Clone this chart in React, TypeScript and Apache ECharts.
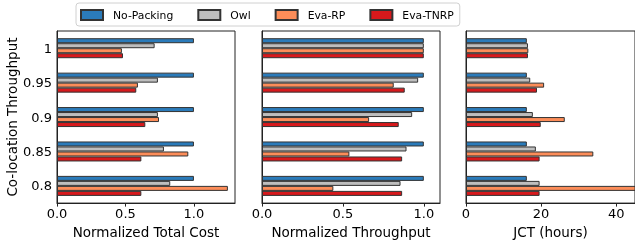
import React, { useEffect, useRef } from "react";
import * as echarts from "echarts";

const categories = ["1", "0.95", "0.9", "0.85", "0.8"];
const seriesNames = ["No-Packing", "Owl", "Eva-RP", "Eva-TNRP"];
const colors = ["#2b7bba", "#bebebe", "#fc8d59", "#d7191c"];

const costNoPacking = [1, 1, 1, 1, 1];
const costOwl = [0.713, 0.737, 0.737, 0.781, 0.827];
const costEvaRP = [0.474, 0.591, 0.745, 0.959, 1.248];
const costEvaTNRP = [0.482, 0.579, 0.645, 0.616, 0.616];

const thrNoPacking = [1, 1, 1, 1, 1];
const thrOwl = [1, 0.965, 0.928, 0.893, 0.856];
const thrEvaRP = [1, 0.814, 0.662, 0.54, 0.441];
const thrEvaTNRP = [1, 0.882, 0.845, 0.866, 0.866];

const jctNoPacking = [16.2, 16.2, 16.2, 16.2, 16.2];
const jctOwl = [16.5, 17.1, 17.8, 18.6, 19.6];
const jctEvaRP = [16.6, 20.8, 26.3, 33.9, 46];
const jctEvaTNRP = [16.5, 18.9, 19.9, 19.6, 19.6];

const costTicks = [0, 0.5, 1.0];
const thrTicks = [0, 0.5, 1.0];
const jctTicks = [0, 20, 40];

const panels = [
  { name: "Normalized Total Cost", data: [costNoPacking, costOwl, costEvaRP, costEvaTNRP], max: 1.3, interval: 0.5, ticks: costTicks, digits: 1, left: 57, width: 178 },
  { name: "Normalized Throughput", data: [thrNoPacking, thrOwl, thrEvaRP, thrEvaTNRP], max: 1.1, interval: 0.5, ticks: thrTicks, digits: 1, left: 262, width: 178 },
  { name: "JCT (hours)", data: [jctNoPacking, jctOwl, jctEvaRP, jctEvaTNRP], max: 45, interval: 20, ticks: jctTicks, digits: 0, left: 466, width: 173.3 },
];

const FONT = "DejaVu Sans";

export default function App() {
  const ref = useRef<HTMLDivElement>(null);
  useEffect(() => {
    if (!ref.current) return;
    const chart = echarts.init(ref.current, null, { renderer: "svg" });
    const grids = panels.map((p) => ({
      left: p.left,
      top: 31,
      width: p.width,
      height: 178,
      show: true,
      borderColor: "#222",
      borderWidth: 1,
      backgroundColor: "transparent",
    }));
    const xAxes = panels.map((p, i) => ({
      type: "value",
      gridIndex: i,
      min: 0,
      max: p.max,
      interval: p.interval,
      name: p.name,
      nameLocation: "middle",
      nameGap: 16,
      nameTextStyle: { fontFamily: FONT, fontSize: 13.5, color: "#000", verticalAlign: "top" },
      splitLine: { show: false },
      axisLine: { show: true, lineStyle: { color: "#222", width: 1 } },
      axisTick: { show: true, length: 3.5, inside: false, lineStyle: { color: "#222" }, customValues: p.ticks },
      axisLabel: {
        fontFamily: FONT,
        fontSize: 13,
        color: "#000",
        margin: 4,
        customValues: p.ticks,
        formatter: (v: number) => v.toFixed(p.digits),
      },
    }));
    const yAxes = panels.map((p, i) => ({
      type: "category",
      gridIndex: i,
      data: categories,
      inverse: true,
      name: i === 0 ? "Co-location Throughput" : "",
      nameLocation: "middle",
      nameRotate: 90,
      nameGap: 29,
      nameTextStyle: { fontFamily: FONT, fontSize: 13.5, color: "#000" },
      axisLine: { show: true, lineStyle: { color: "#222", width: 1 } },
      axisTick: { show: false },
      splitLine: { show: false },
      axisLabel: { show: i === 0, fontFamily: FONT, fontSize: 13, color: "#000", margin: 5 },
    }));
    const series: any[] = [];
    panels.forEach((p, i) => {
      p.data.forEach((d, s) => {
        series.push({
          type: "bar",
          name: seriesNames[s],
          xAxisIndex: i,
          yAxisIndex: i,
          data: d,
          barWidth: 5,
          barGap: "0%",
          itemStyle: { color: colors[s], borderColor: "#333", borderWidth: 1 },
        });
      });
    });
    chart.setOption({
      animation: false,
      legend: {
        left: 76,
        top: 3,
        data: seriesNames,
        selectedMode: false,
        icon: "rect",
        itemWidth: 22,
        itemHeight: 10,
        itemGap: 24,
        padding: [6, 6, 5, 4],
        borderColor: "#d0d0d0",
        borderWidth: 1,
        borderRadius: 3,
        backgroundColor: "#fff",
        textStyle: { fontFamily: FONT, fontSize: 10.8, color: "#000", padding: [0, 0, 0, 5] },
      },
      grid: grids,
      xAxis: xAxes,
      yAxis: yAxes,
      series,
    });
    return () => chart.dispose();
  }, []);
  return <div ref={ref} style={{ position: "fixed", left: 0, top: 0, width: 635, height: 244 }} />;
}
